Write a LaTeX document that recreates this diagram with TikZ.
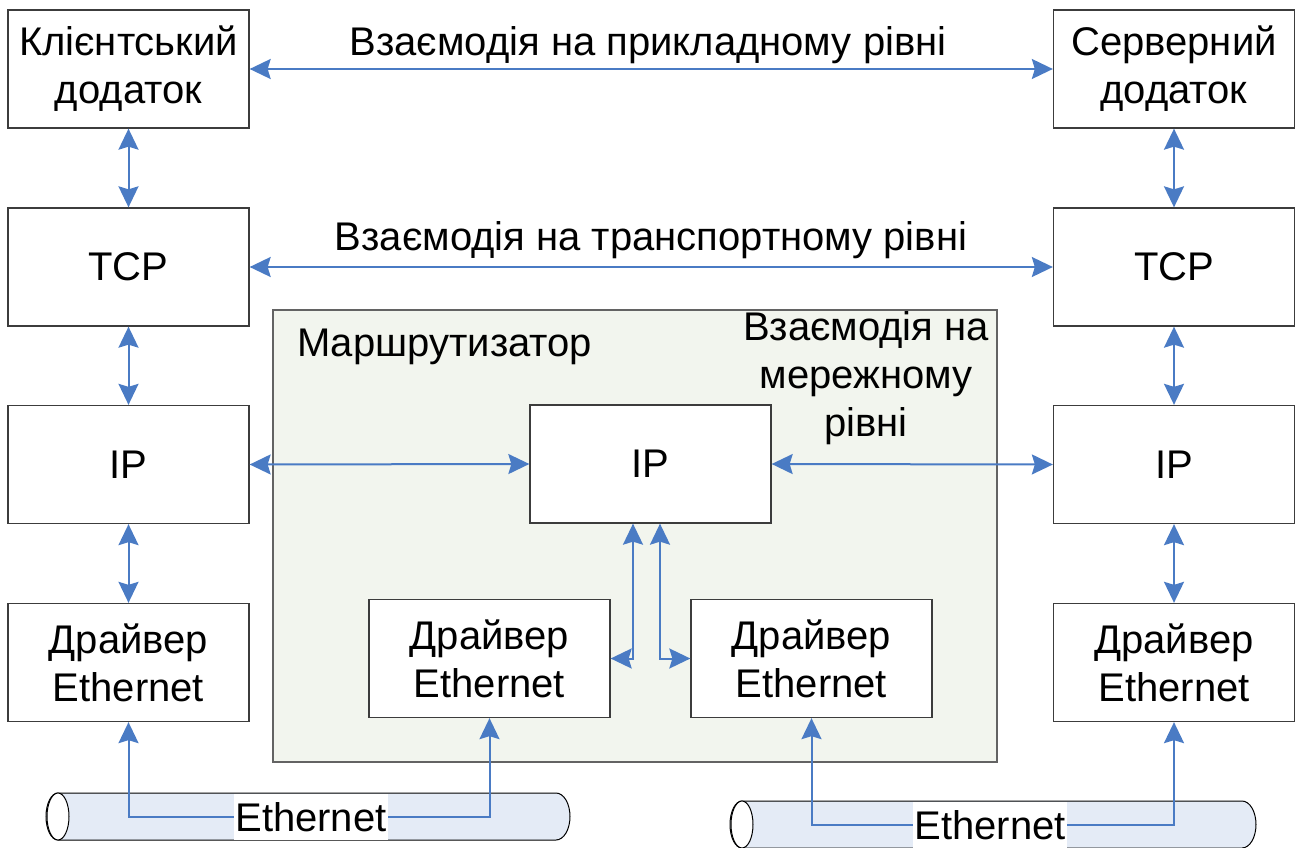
\documentclass[tikz,border=0pt]{standalone}
\usepackage{fontspec}
\setmainfont{Liberation Sans}
\usetikzlibrary{arrows.meta}
\definecolor{arrowblue}{HTML}{4A7BC4}
\definecolor{routerfill}{HTML}{F2F5EE}
\definecolor{cablefill}{HTML}{E4EBF6}
\definecolor{edgegray}{HTML}{3C3C3C}

% horizontal cable: #1 left, #2 right, #3 top, #4 bottom
\newcommand\drawcable[4]{%
  \pgfmathsetmacro\cabcy{(#3+#4)/2}%
  \pgfmathsetmacro\cabry{(#4-#3)/2}%
  \draw[cablebody] (#1+12,#3) -- (#2-14,#3)
    arc[start angle=90,end angle=-90,x radius=14pt,y radius=\cabry pt]
    -- (#1+12,#4)
    arc[start angle=270,end angle=90,x radius=12pt,y radius=\cabry pt] -- cycle;
  \draw[cableface] (#1+12,\cabcy) ellipse[x radius=11pt,y radius=\cabry pt];
}

\begin{document}
\begin{tikzpicture}[x=1pt,y=-1pt,
  every node/.style={font=\fontsize{40}{48}\selectfont},
  layerbox/.style={draw=edgegray,line width=1.3pt,fill=white,
    minimum width=241pt,minimum height=118pt,inner sep=0pt,align=center},
  routerbox/.style={draw=edgegray!80,line width=1.3pt,fill=routerfill,
    minimum width=724pt,minimum height=452pt,inner sep=0pt},
  link/.style={draw=arrowblue,line width=2pt,
    {Stealth[length=21pt,width=20pt,inset=3pt]}-{Stealth[length=21pt,width=20pt,inset=3pt]}},
  cablebody/.style={draw=black,line width=1pt,fill=cablefill},
  cableface/.style={draw=black,line width=1pt,fill=white},
  cablelabel/.style={fill=white,inner xsep=1pt,inner ysep=0pt,minimum height=46pt},
  plain/.style={inner sep=0pt,align=center}
]
\useasboundingbox (0,0) rectangle (1296,848);

% router enclosure
\node[routerbox] (router) at (635,536) {};

% host stacks
\node[layerbox] (appL) at (128.5,69) {Клієнтський\\додаток};
\node[layerbox] (tcpL) at (128.5,267) {TCP};
\node[layerbox] (ipL)  at (128.5,464.5) {IP};
\node[layerbox] (drvL) at (128.5,662.5) {Драйвер\\Ethernet};

\node[layerbox] (appR) at (1174,69) {Серверний\\додаток};
\node[layerbox] (tcpR) at (1174,267) {TCP};
\node[layerbox] (ipR)  at (1174,464.5) {IP};
\node[layerbox] (drvR) at (1174,662.5) {Драйвер\\Ethernet};

% router stack
\node[layerbox] (rip)   at (650.5,464) {IP};
\node[layerbox] (rdrvL) at (489.5,658.5) {Драйвер\\Ethernet};
\node[layerbox] (rdrvR) at (811.5,658.5) {Драйвер\\Ethernet};

% labels
\node[plain] (lapp) at (648,45) {Взаємодія на прикладному рівні};
\node[plain] (ltcp) at (651,240) {Взаємодія на транспортному рівні};
\node[plain,anchor=west] (lrouter) at (297,347) {Маршрутизатор};
\node[plain] (lnet) at (866,378) {Взаємодія на\\мережному\\рівні};

% vertical links inside each host
\draw[link] (appL.south) -- (tcpL.north);
\draw[link] (tcpL.south) -- (ipL.north);
\draw[link] (ipL.south) -- (drvL.north);
\draw[link] (appR.south) -- (tcpR.north);
\draw[link] (tcpR.south) -- (ipR.north);
\draw[link] (ipR.south) -- (drvR.north);

% peer interactions
\draw[link] (appL.east) -- (appR.west);
\draw[link] (tcpL.east) -- (tcpR.west);
\draw[link] (ipL.east) -- (rip.west);
\draw[link] (rip.east) -- (ipR.west);

% router internal links
\draw[link] ([xshift=-17.5pt]rip.south) |- (rdrvL.east);
\draw[link] ([xshift=9.5pt]rip.south) |- (rdrvR.west);

% cables
\drawcable{46}{570}{793}{840}
\drawcable{730}{1256}{801}{848}

\coordinate (c1) at (311,817);
\coordinate (c2) at (990,825);
\draw[link] (drvL.south) |- (c1) -| (rdrvL.south);
\draw[link] (rdrvR.south) |- (c2) -| (drvR.south);

\node[cablelabel] (eth1) at (c1) {Ethernet};
\node[cablelabel] (eth2) at (c2) {Ethernet};
\end{tikzpicture}
\end{document}
